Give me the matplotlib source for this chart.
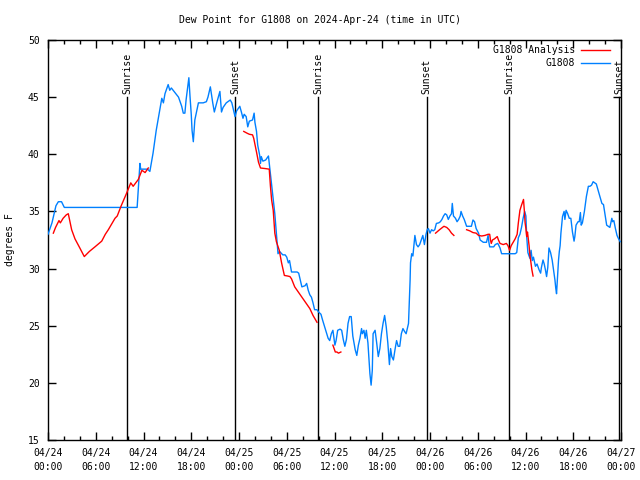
import numpy as np
import matplotlib
matplotlib.use("Agg")
import matplotlib.pyplot as plt

# ---------------- data (hours since 2024-04-24 00:00 UTC, degrees F) ----------------
obs_hours = [0.0, 0.5, 1.0, 1.3, 1.7, 2.05, 11.2, 11.55, 11.65, 12.5, 12.8, 13.2, 13.6, 13.9,
             14.3, 14.5, 14.7, 15.1, 15.3, 15.5, 15.95, 16.4, 16.8, 17.0, 17.2, 17.35, 17.7,
             17.85, 18.0, 18.1, 18.26, 18.45, 18.9, 19.5, 19.9, 20.1, 20.4, 20.7, 20.9, 21.2,
             21.6, 21.8, 22.0, 22.4, 22.9, 23.1, 23.5, 23.7, 24.1, 24.3, 24.5, 24.65, 24.9,
             25.1, 25.3, 25.7, 25.9, 26.0, 26.2, 26.35, 26.6, 26.7, 26.8, 27.0, 27.35, 27.7,
             27.85, 28.0, 28.3, 28.5, 28.7, 28.9, 29.1, 29.5, 29.8, 30.0, 30.2, 30.35, 30.6,
             31.3, 31.5, 31.7, 31.9, 32.3, 32.5, 32.7, 32.9, 33.1, 33.3, 33.5, 33.8, 34.0,
             34.3, 34.5, 34.8, 35.0, 35.2, 35.4, 35.6, 35.8, 36.05, 36.2, 36.4, 36.7, 36.9,
             37.1, 37.3, 37.5, 37.7, 37.9, 38.1, 38.3, 38.6, 38.8, 39.0, 39.2, 39.4, 39.5,
             39.7, 39.85, 40.0, 40.2, 40.45, 40.6, 40.75, 40.85, 41.1, 41.3, 41.5, 41.7, 41.9,
             42.1, 42.3, 42.5, 42.7, 42.9, 43.05, 43.2, 43.4, 43.6, 43.8, 44.0, 44.2, 44.4,
             44.6, 44.8, 45.0, 45.3, 45.4, 45.5, 45.55, 45.7, 45.85, 46.1, 46.3, 46.5, 46.7,
             46.9, 47.1, 47.3, 47.5, 47.65, 47.8, 48.0, 48.2, 48.4, 48.6, 48.8, 49.1, 49.3,
             49.5, 49.7, 49.9, 50.1, 50.3, 50.5, 50.7, 50.8, 50.95, 51.2, 51.4, 51.6, 51.8,
             51.9, 52.1, 52.3, 52.6, 53.0, 53.2, 53.4, 53.6, 53.8, 54.1, 54.3, 54.7, 55.1,
             55.3, 55.4, 55.5, 56.0, 56.2, 56.5, 56.6, 56.8, 57.0, 57.5, 58.0, 58.7, 58.9,
             59.1, 59.3, 59.5, 59.7, 59.9, 60.05, 60.15, 60.3, 60.45, 60.55, 60.7, 60.85,
             61.0, 61.25, 61.45, 61.7, 61.9, 62.0, 62.2, 62.35, 62.5, 62.65, 62.8, 62.95,
             63.15, 63.35, 63.5, 63.7, 63.8, 63.9, 64.05, 64.15, 64.25, 64.35, 64.45, 64.65,
             64.85, 64.95, 65.1, 65.3, 65.5, 65.7, 65.9, 66.1, 66.2, 66.35, 66.6, 66.75,
             66.9, 67.0, 67.15, 67.4, 67.65, 67.9, 68.1, 68.3, 68.5, 68.7, 68.9, 69.1, 69.35,
             69.6, 69.8, 70.0, 70.2, 70.4, 70.6, 70.85, 70.95, 71.1, 71.3, 71.5, 71.7, 71.9]
obs_values = [33.0, 34.0, 35.5, 35.85, 35.85, 35.35, 35.35, 39.2, 38.7, 38.7, 38.5, 40.1, 42.1, 43.3,
              44.9, 44.5, 45.3, 46.1, 45.6, 45.8, 45.4, 45.0, 44.2, 43.6, 43.6, 44.75, 46.7,
              45.0, 43.5, 42.1, 41.1, 43.0, 44.5, 44.5, 44.6, 45.0, 45.9, 44.5, 43.7, 44.5,
              45.5, 43.7, 44.1, 44.5, 44.75, 44.5, 43.3, 43.8, 44.2, 43.7, 43.15, 43.5, 43.3,
              42.4, 42.9, 43.0, 43.6, 42.8, 42.0, 40.8, 39.9, 39.2, 39.8, 39.4, 39.5, 39.85,
              38.9, 38.0, 36.0, 34.8, 33.1, 31.3, 31.5, 31.2, 31.2, 31.0, 30.5, 30.7, 29.7,
              29.7, 29.6, 29.0, 28.4, 28.5, 28.7, 28.1, 27.7, 27.5, 27.0, 26.4, 26.4, 26.2,
              26.0, 25.5, 24.8, 24.3, 23.9, 23.7, 24.3, 24.6, 23.3, 23.7, 24.6, 24.7, 24.6,
              23.8, 23.2, 23.8, 25.2, 25.8, 25.8, 24.1, 22.9, 22.4, 23.3, 23.9, 24.75, 24.3,
              24.6, 23.9, 24.6, 23.5, 20.8, 19.8, 21.1, 24.3, 24.6, 23.5, 22.3, 23.0, 24.3,
              25.2, 25.9, 24.9, 23.5, 21.6, 23.0, 22.3, 22.0, 22.9, 23.7, 23.2, 23.2, 24.3,
              24.75, 24.5, 24.3, 25.2, 27.0, 29.0, 30.5, 31.3, 31.1, 32.9, 32.1, 31.9, 32.1,
              32.5, 32.9, 32.1, 33.0, 33.4, 33.5, 33.1, 33.4, 33.3, 33.4, 33.95, 34.0, 34.1,
              34.3, 34.6, 34.8, 34.7, 34.3, 34.6, 34.8, 35.7, 34.6, 34.4, 34.1, 34.3, 34.6,
              35.0, 34.6, 34.3, 33.7, 33.7, 33.7, 34.25, 34.1, 33.5, 33.1, 32.5, 32.3, 32.3,
              32.9, 32.3, 31.9, 31.9, 32.1, 32.2, 32.1, 31.8, 31.3, 31.3, 31.3, 31.3, 31.4,
              32.7, 33.0, 33.6, 34.4, 35.0, 34.6, 32.8, 31.4, 31.1, 30.9, 31.6, 30.7,
              31.0, 30.2, 30.4, 29.9, 29.6, 30.1, 30.75, 30.4, 29.9, 29.3, 30.1, 31.8,
              31.4, 30.75, 30.0, 29.0, 28.3, 27.8, 29.5, 30.75, 31.5, 32.0, 33.1, 34.55,
              35.0, 34.3, 35.1, 34.8, 34.4, 34.4, 33.2, 32.4, 32.8, 33.8, 34.1, 34.1,
              34.9, 33.8, 34.0, 35.0, 36.3, 37.2, 37.2, 37.3, 37.6, 37.5, 37.4, 36.9, 36.3,
              35.7, 35.6, 34.7, 33.8, 33.7, 33.6, 34.4, 34.1, 34.2, 33.5, 32.9, 32.6, 32.35]

# analysis series (NaN marks gaps between segments)
ana_hours = [0.67, 0.95, 1.38, 1.55, 1.9, 2.3, 2.55, 2.97, 3.39, 4.0, 4.56, 5.2, 5.9, 6.75, 7.2,
             7.58, 8.0, 8.42, 8.7, 9.2, 9.88, 10.4, 10.7, 11.35, 11.8, 12.2, 12.6, 12.61,
             24.6, 25.0, 25.3, 25.7, 25.85, 26.2, 26.45, 26.7, 27.3, 27.8, 27.95, 28.1, 28.3,
             28.5, 28.7, 29.06, 29.35, 29.7, 30.1, 30.4, 30.6, 31.0, 31.7, 32.3, 32.9, 33.3,
             33.8, 33.81,
             35.8, 35.95, 36.1, 36.3, 36.5, 36.8, 36.81,
             48.7, 49.2, 49.75, 50.1, 50.4, 50.7, 51.0, 51.01,
             52.6, 53.0, 53.4, 53.8, 54.1, 54.5, 54.9, 55.3, 55.5, 55.6, 55.7, 55.85, 56.1,
             56.45, 56.6, 56.8, 57.2, 57.6, 57.8, 58.0, 58.2, 58.45, 58.7, 58.95, 59.1, 59.3,
             59.5, 59.75, 59.85, 59.95, 60.05, 60.15, 60.25, 60.35, 60.45, 60.55, 60.65, 60.8,
             60.95]
ana_values = [33.1, 33.6, 34.2, 34.0, 34.4, 34.7, 34.8, 33.4, 32.6, 31.8, 31.05, 31.5, 31.9, 32.4, 33.0,
              33.4, 33.9, 34.4, 34.6, 35.5, 36.6, 37.5, 37.2, 37.8, 38.6, 38.4, 38.8, np.nan,
              42.0, 41.85, 41.75, 41.7, 41.4, 40.2, 39.3, 38.8, 38.75, 38.7, 37.2, 36.0, 35.1,
              33.1, 32.35, 31.6, 30.5, 29.4, 29.35, 29.3, 29.1, 28.4, 27.7, 27.1, 26.5, 25.9,
              25.3, np.nan,
              23.3, 23.0, 22.7, 22.7, 22.6, 22.7, np.nan,
              33.1, 33.4, 33.7, 33.6, 33.4, 33.1, 32.9, np.nan,
              33.4, 33.3, 33.15, 33.1, 32.9, 32.85, 32.9, 33.0, 33.0, 32.5, 32.2, 32.5, 32.6,
              32.8, 32.5, 32.2, 32.1, 32.2, 32.0, 31.6, 32.0, 32.3, 32.6, 33.0, 34.0, 35.1,
              35.55, 36.05, 35.1, 34.0, 33.5, 32.8, 33.2, 32.6, 32.0, 31.2, 30.7, 29.9,
              29.35]

sun_hours = [9.98, 23.55, 33.96, 47.6, 57.95, 71.75]
sun_labels = ["Sunrise", "Sunset", "Sunrise", "Sunset", "Sunrise", "Sunset"]

xtick_hours = list(range(0, 73, 6))
xtick_labels = ["04/24\n00:00", "04/24\n06:00", "04/24\n12:00", "04/24\n18:00",
                "04/25\n00:00", "04/25\n06:00", "04/25\n12:00", "04/25\n18:00",
                "04/26\n00:00", "04/26\n06:00", "04/26\n12:00", "04/26\n18:00",
                "04/27\n00:00"]
ytick_values = [15, 20, 25, 30, 35, 40, 45, 50]

# ---------------- plot ----------------
plt.rcParams['font.family'] = ['DejaVu Sans Mono']
FS = 7

fig = plt.figure(figsize=(6.4, 4.8), dpi=100)
ax = fig.add_axes([48 / 640, 40 / 480, (621 - 48) / 640, 400 / 480])

for h, lab in zip(sun_hours, sun_labels):
    ax.plot([h, h], [15, 45], color="black", lw=1.0, zorder=2)
    ax.text(h, 45.3, lab, rotation=90, ha="center", va="bottom", fontsize=FS, zorder=3)

ax.plot(obs_hours, obs_values, color="#0080ff", lw=1.0, zorder=4, label="G1808")
ax.plot(ana_hours, ana_values, color="#ff0000", lw=1.0, zorder=5, label="G1808 Analysis")

ax.set_xlim(0, 72)
ax.set_ylim(15, 50)
ax.set_xticks(xtick_hours)
ax.set_xticklabels(xtick_labels, fontsize=FS, linespacing=1.45)
ax.set_xticks(list(range(0, 73, 2)), minor=True)
ax.set_yticks(ytick_values)
ax.set_yticklabels([str(v) for v in ytick_values], fontsize=FS)
ax.tick_params(which="both", direction="in", top=True, right=True, width=1.0, color="black")
ax.tick_params(which="major", length=6)
ax.tick_params(axis="x", which="major", pad=6)
ax.tick_params(axis="y", which="major", pad=6)
ax.tick_params(which="minor", length=3)
for sp in ax.spines.values():
    sp.set_linewidth(1.0)

fig.text(10 / 640, 0.5, "degrees F", rotation=90, ha="center", va="center", fontsize=FS)
fig.text(0.5, 1 - 20 / 480, "Dew Point for G1808 on 2024-Apr-24 (time in UTC)",
         ha="center", va="center", fontsize=FS)

handles, labels = ax.get_legend_handles_labels()
leg = ax.legend(handles[::-1], labels[::-1], loc="upper right", frameon=False, fontsize=FS,
                markerfirst=False, handlelength=3.0, borderaxespad=0.0, labelspacing=0.35,
                handletextpad=0.6, borderpad=0.0,
                bbox_to_anchor=(610 / 640, 1 - 45 / 480), bbox_transform=fig.transFigure)

fig.savefig("out.png", dpi=100)
